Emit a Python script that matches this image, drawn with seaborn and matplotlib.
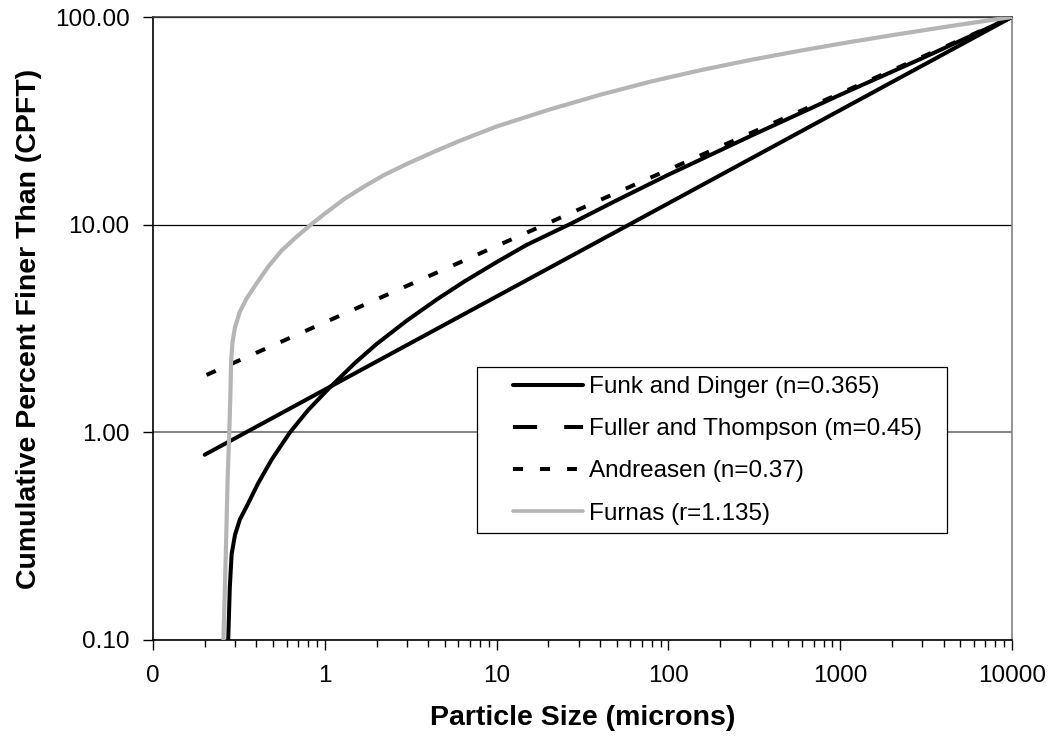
import matplotlib
matplotlib.use("Agg")
import matplotlib.pyplot as plt
import seaborn as sns
from matplotlib.lines import Line2D
from matplotlib.patches import Rectangle
from matplotlib.ticker import FixedLocator, FixedFormatter, LogLocator, NullFormatter, NullLocator

sns.set_theme(style="white")
plt.rcParams['font.family'] = ['Liberation Sans', 'DejaVu Sans']

# Particle size distribution models (size in microns, CPFT in percent)
funk_x = [0.274, 0.280, 0.287, 0.300, 0.320, 0.351, 0.41, 0.491, 0.627, 0.8,
          1.05, 1.5, 2.0, 3.0, 4.5, 6.5, 10, 15, 27, 50,
          100, 300, 1000, 3000, 10000]
funk_y = [0.10, 0.18, 0.26, 0.32, 0.38, 0.44, 0.57, 0.74, 1.00, 1.28,
          1.62, 2.16, 2.66, 3.45, 4.37, 5.33, 6.6, 8.0, 10.1, 13.1,
          17.4, 26.7, 42.2, 63.3, 100.0]

fuller_x = [0.2, 10000]
fuller_y = [0.78, 100.0]

andreasen_x = [0.205, 10000]
andreasen_y = [1.89, 100.0]

furnas_x = [0.257, 0.265, 0.272, 0.278, 0.282, 0.285, 0.29, 0.30, 0.32, 0.35,
            0.40, 0.47, 0.56, 0.68, 0.83, 1.0, 1.3, 1.7, 2.2, 3.0,
            4.3, 6.0, 10, 20, 40, 80, 153, 300, 583, 1100,
            2228, 5000, 10000]
furnas_y = [0.10, 0.25, 0.6, 1.0, 1.5, 2.2, 2.7, 3.2, 3.8, 4.4,
            5.2, 6.3, 7.5, 8.7, 10.0, 11.3, 13.3, 15.3, 17.3, 19.6,
            22.4, 25.2, 29.7, 35.7, 42.2, 49.0, 55.4, 62.1, 68.8, 75.4,
            82.9, 91.9, 100.0]

series_labels = ["Funk and Dinger (n=0.365)", "Fuller and Thompson (m=0.45)",
                 "Andreasen (n=0.37)", "Furnas (r=1.135)"]

x_tick_values = [0.1, 1, 10, 100, 1000, 10000]
x_tick_labels = ["0", "1", "10", "100", "1000", "10000"]
y_tick_values = [0.1, 1, 10, 100]
y_tick_labels = ["0.10", "1.00", "10.00", "100.00"]

W, H = 1053, 737
fig = plt.figure(figsize=(W / 100, H / 100), dpi=100)
ax = fig.add_axes([153 / W, 97 / H, 859 / W, 623 / H])
ax.set_xscale("log")
ax.set_yscale("log")

black_lw = 2.9
andreasen_dash = (2.5, 4.2)
fuller_legend_dash = (6.0, 6.7)
furnas_color = "#b5b5b5"

sns.lineplot(x=funk_x, y=funk_y, ax=ax, color="black", linewidth=black_lw,
             estimator=None, sort=False, legend=False, zorder=3)
sns.lineplot(x=fuller_x, y=fuller_y, ax=ax, color="black", linewidth=black_lw,
             estimator=None, sort=False, legend=False, zorder=3)
sns.lineplot(x=andreasen_x, y=andreasen_y, ax=ax, color="black", linewidth=black_lw,
             linestyle=(0, andreasen_dash), estimator=None, sort=False,
             legend=False, zorder=3)
sns.lineplot(x=furnas_x, y=furnas_y, ax=ax, color=furnas_color, linewidth=3.0,
             estimator=None, sort=False, legend=False, zorder=3.5)

ax.set_xlim(0.1, 10000)
ax.set_ylim(0.1, 100)

ax.xaxis.set_major_locator(FixedLocator(x_tick_values))
ax.xaxis.set_major_formatter(FixedFormatter(x_tick_labels))
ax.xaxis.set_minor_locator(LogLocator(base=10, subs=range(2, 10), numticks=20))
ax.xaxis.set_minor_formatter(NullFormatter())
ax.yaxis.set_major_locator(FixedLocator(y_tick_values))
ax.yaxis.set_major_formatter(FixedFormatter(y_tick_labels))
ax.yaxis.set_minor_locator(NullLocator())

ax.tick_params(axis="both", which="major", direction="out", length=7, width=1,
               colors="black", labelsize=17.5, bottom=True, left=True)
ax.tick_params(axis="x", which="major", pad=11)
ax.tick_params(axis="y", which="major", pad=10)
ax.tick_params(axis="x", which="minor", direction="out", length=5, width=1,
               colors="black", bottom=True)

ax.yaxis.grid(True, which="major", color="black", linewidth=0.9)
ax.xaxis.grid(False)
ax.set_axisbelow(True)
# the lower gridline renders in a softer grey
for val, gl in zip(y_tick_values, ax.yaxis.get_gridlines()):
    if val == 1:
        gl.set_color("#7a7a7a")
        gl.set_linewidth(1.3)

for side, col in (("left", "black"), ("bottom", "black"),
                  ("top", "#404040"), ("right", "#808080")):
    ax.spines[side].set_visible(True)
    ax.spines[side].set_color(col)
    ax.spines[side].set_linewidth(1.2)

ax.set_xlabel("Particle Size (microns)", fontsize=20.5, fontweight="bold",
              color="black", labelpad=13)
ax.set_ylabel("Cumulative Percent Finer Than (CPFT)", fontsize=20.5,
              fontweight="bold", color="black", labelpad=9)

# Legend box
x0, x1 = 153, 1012
y0, y1 = 640, 17


def ax_fx(px):
    return (px - x0) / (x1 - x0)


def ax_fy(py):
    return (y0 - py) / (y0 - y1)


box = Rectangle((ax_fx(477), ax_fy(533)), ax_fx(947) - ax_fx(477),
                ax_fy(367) - ax_fy(533), transform=ax.transAxes,
                facecolor="white", edgecolor="black", linewidth=0.9, zorder=4)
ax.add_patch(box)

handles = [
    Line2D([], [], color="black", linewidth=black_lw),
    Line2D([], [], color="black", linewidth=black_lw,
           linestyle=(0, fuller_legend_dash)),
    Line2D([], [], color="black", linewidth=black_lw,
           linestyle=(0, andreasen_dash)),
    Line2D([], [], color=furnas_color, linewidth=2.6),
]
leg = ax.legend(handles, series_labels, loc="upper left",
                bbox_to_anchor=(ax_fx(513), ax_fy(376)), frameon=False,
                borderpad=0, borderaxespad=0, handlelength=2.88,
                handletextpad=0.25, labelspacing=0.83, fontsize=17.5)
leg.set_zorder(5)
for t in leg.get_texts():
    t.set_color("black")

fig.savefig("out.png", dpi=100, facecolor="white")
